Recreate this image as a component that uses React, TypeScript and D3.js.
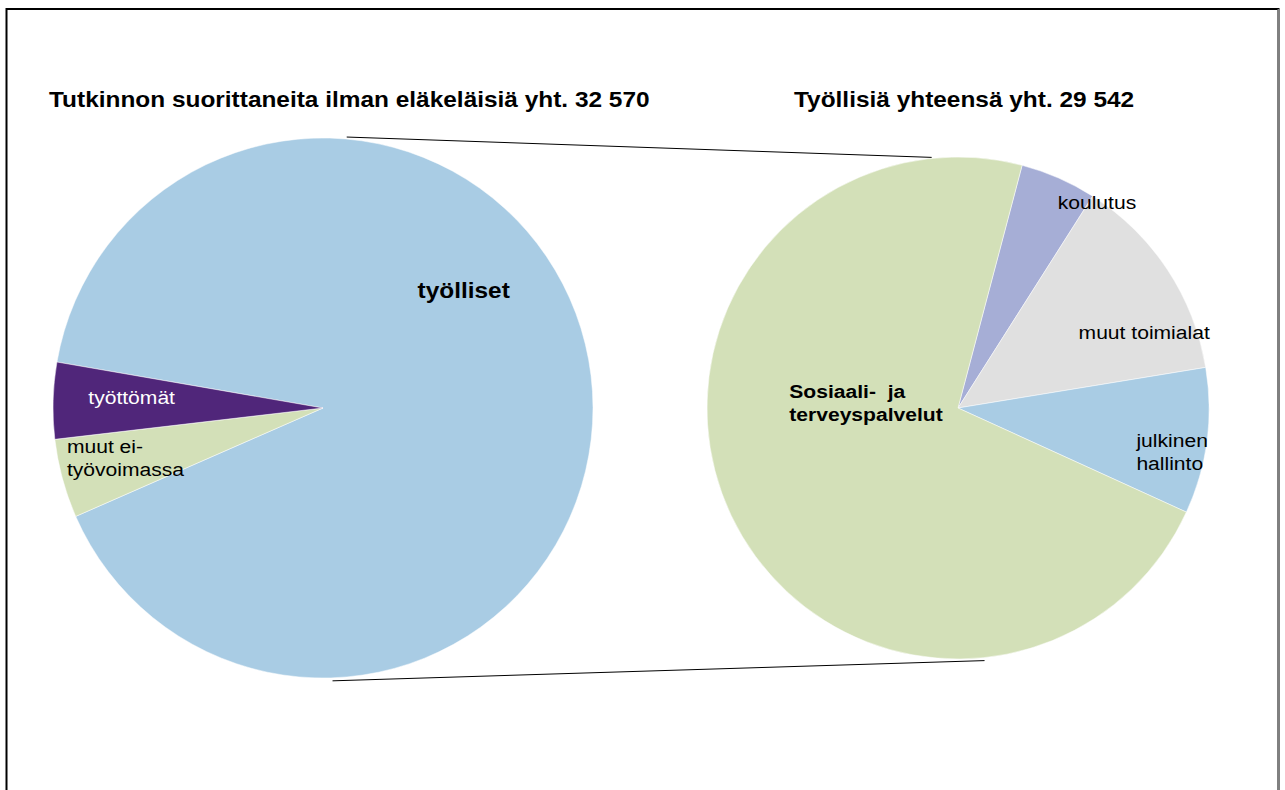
import React from 'react';
import * as d3 from 'd3';

// left pie: all graduates without pensioners
const leftNames = ['työlliset', 'muut ei-työvoimassa', 'työttömät'];
const leftValues = [29542, 1538, 1490];
const leftColors = ['#A9CCE4', '#D3E0B8', '#50267A'];

// right pie: employed by industry
const rightNames = ['koulutus', 'muut toimialat', 'julkinen hallinto', 'Sosiaali- ja terveyspalvelut'];
const rightValues = [1448, 3959, 2775, 21360];
const rightColors = ['#A6AED6', '#E0E0E0', '#A9CCE4', '#D3E0B8'];

const leftTitle = 'Tutkinnon suorittaneita ilman eläkeläisiä yht. 32 570';
const rightTitle = 'Työllisiä yhteensä yht. 29 542';

const W = 1285;
const H = 790;
const deg = Math.PI / 180;
const FONT = "'Liberation Sans', Arial, sans-serif";
const SX = 1.11; // the source image is a bit wide

// label placement: angle (deg, clockwise from top), radius fraction, anchor, lines
const leftLabels = [
  { a: 50, f: 0.68, anchor: 'middle', lines: ['työlliset'], size: 22, bold: true, color: '#000' },
  { a: 256, f: 0.76, anchor: 'start', dx: -57, lines: ['muut ei-', 'työvoimassa'], size: 19, bold: false, color: '#000' },
  { a: 273.3, f: 0.71, anchor: 'middle', lines: ['työttömät'], size: 19, bold: false, color: '#fff' },
];
const rightLabels = [
  { a: 34, f: 0.99, anchor: 'middle', lines: ['koulutus'], size: 19, bold: false, color: '#000' },
  { a: 68, f: 0.8, anchor: 'middle', lines: ['muut toimialat'], size: 19, bold: false, color: '#000' },
  { a: 101.7, f: 0.86, anchor: 'start', dx: -33, lines: ['julkinen', 'hallinto'], size: 19, bold: false, color: '#000' },
  { a: 273, f: 0.37, anchor: 'start', dx: -76, lines: ['Sosiaali-  ja', 'terveyspalvelut'], size: 19, bold: true, color: '#000' },
];

function polar(cx: number, cy: number, r: number, a: number) {
  return [cx + r * Math.sin(a * deg), cy - r * Math.cos(a * deg)];
}

function Pie({ cx, cy, r, values, colors, start, labels }: any) {
  const pie = d3.pie<number>().sort(null).startAngle(start * deg).endAngle(start * deg + 2 * Math.PI);
  const arc = d3.arc<d3.PieArcDatum<number>>().innerRadius(0).outerRadius(r);
  const arcs = pie(values);
  const lineH = 23;
  return (
    <g>
      <g transform={`translate(${cx},${cy})`}>
        {arcs.map((d, i) => (
          <path key={i} d={arc(d) || ''} fill={colors[i]} stroke="#fff" strokeWidth={0.5} />
        ))}
      </g>
      {labels.map((l: any, i: number) => {
        const [x, y] = polar(cx, cy, r * l.f, l.a);
        const y0 = y - ((l.lines.length - 1) * lineH) / 2;
        return (
          <g key={i} transform={`translate(${x + (l.dx || 0)},${y0}) scale(${SX},1)`}>
            <text textAnchor={l.anchor} dominantBaseline="central" style={{ whiteSpace: 'pre' }}
              fontFamily={FONT} fontSize={l.size} fontWeight={l.bold ? 'bold' : 'normal'} fill={l.color}>
              {l.lines.map((t: string, j: number) => (
                <tspan key={j} x={0} y={j * lineH}>{t}</tspan>
              ))}
            </text>
          </g>
        );
      })}
    </g>
  );
}

export default function App() {
  const L = { cx: 323, cy: 408, r: 270 };
  const R = { cx: 958, cy: 408, r: 251 };
  // series lines between the two pies
  const lt = polar(L.cx, L.cy, L.r + 2, 5);
  const lb = polar(L.cx, L.cy, L.r + 3, 178);
  const rt = polar(R.cx, R.cy, R.r + 1, -6);
  const rb = polar(R.cx, R.cy, R.r + 3, 174);
  return (
    <svg width={W} height={H} style={{ position: 'absolute', left: 0, top: 0, background: '#fff' }}>
      <rect x={6.5} y={9} width={1272} height={800} fill="#fff" stroke="#000" strokeWidth={2} />
      <line x1={1278.5} y1={9} x2={1278.5} y2={H} stroke="#808080" strokeWidth={2} />
      <g transform={`translate(49,107) scale(${SX},1)`}>
        <text fontFamily={FONT} fontSize={22} fontWeight="bold">{leftTitle}</text>
      </g>
      <g transform={`translate(794,107) scale(${SX},1)`}>
        <text fontFamily={FONT} fontSize={22} fontWeight="bold">{rightTitle}</text>
      </g>
      <Pie {...L} values={leftValues} colors={leftColors} start={-80.2} labels={leftLabels} />
      <Pie {...R} values={rightValues} colors={rightColors} start={14.8} labels={rightLabels} />
      <line x1={lt[0]} y1={lt[1]} x2={rt[0]} y2={rt[1]} stroke="#000" strokeWidth={1} />
      <line x1={lb[0]} y1={lb[1]} x2={rb[0]} y2={rb[1]} stroke="#000" strokeWidth={1} />
    </svg>
  );
}
